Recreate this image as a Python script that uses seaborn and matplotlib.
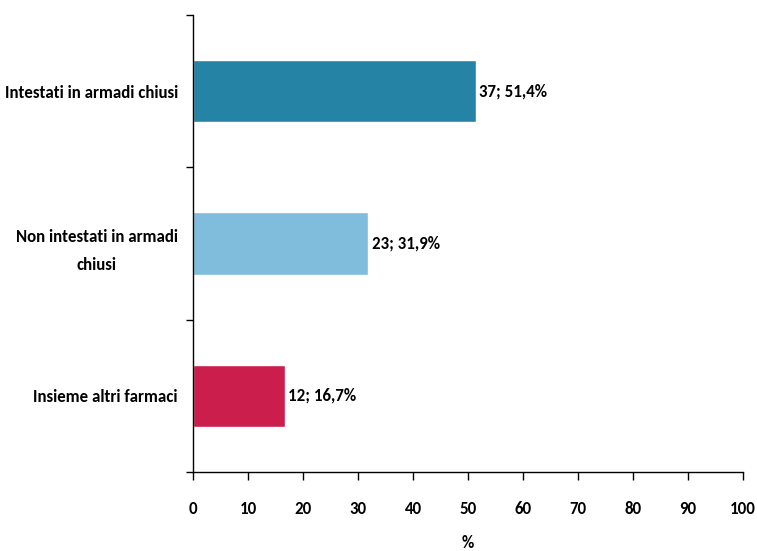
import matplotlib
matplotlib.use("Agg")
import matplotlib.pyplot as plt
from matplotlib import font_manager
import pandas as pd
import seaborn as sns

categories = ["Intestati in armadi chiusi", "Non intestati in armadi\nchiusi", "Insieme altri farmaci"]
counts = [37, 23, 12]
percents = [51.4, 31.9, 16.7]
colors = ["#2584A6", "#80BDDD", "#CB1E4D"]
x_ticks = [0, 10, 20, 30, 40, 50, 60, 70, 80, 90, 100]

sns.set_style("white")
available = {f.name for f in font_manager.fontManager.ttflist}
font = "DejaVu Sans"
for name in ["Carlito", "Liberation Sans Narrow", "Asap Condensed", "Barlow Semi Condensed"]:
    if name in available:
        font = name
        break
plt.rcParams["font.family"] = [font, "DejaVu Sans"]
plt.rcParams["font.weight"] = "bold"
plt.rcParams["text.color"] = "black"
plt.rcParams["xtick.color"] = "black"
plt.rcParams["ytick.color"] = "black"
plt.rcParams["axes.labelcolor"] = "black"
FS = 12.2

df = pd.DataFrame({"cat": categories, "pct": percents})

fig = plt.figure(figsize=(7.57, 5.51), dpi=100)
ax = fig.add_axes([0.255, 0.143, 0.7265, 0.83])

sns.barplot(data=df, x="pct", y="cat", hue="cat", palette=colors, orient="h",
            width=0.41, legend=False, ax=ax, saturation=1)

for i, (n, p) in enumerate(zip(counts, percents)):
    txt = f"{n}; {p:.1f}%".replace(".", ",")
    ax.text(p + 0.6, i, txt, va="center", ha="left", fontsize=FS, fontweight="bold")

ax.set_xlim(0, 100)
ax.set_ylim(2.5, -0.5)
ax.set_xticks(x_ticks)
ax.set_xticklabels([str(t) for t in x_ticks], fontsize=FS, fontweight="bold")
ax.tick_params(axis="x", bottom=True, direction="out", length=6, width=1, pad=15)

ax.set_yticks([-0.5, 0.5, 1.5, 2.5])
ax.set_yticklabels([])
ax.tick_params(axis="y", which="major", left=True, direction="out", length=5, width=1)
ax.set_yticks([0, 1, 2], minor=True)
ax.set_yticklabels(categories, minor=True, fontsize=FS, fontweight="bold",
                   multialignment="center", linespacing=1.95)
ax.tick_params(axis="y", which="minor", left=True, length=0, pad=11)

ax.set_xlabel("%", fontsize=FS, fontweight="bold", labelpad=13)
ax.set_ylabel("")

for side in ["top", "right"]:
    ax.spines[side].set_visible(False)
for side in ["left", "bottom"]:
    ax.spines[side].set_color("black")
    ax.spines[side].set_linewidth(1)

fig.savefig("out.png", dpi=100)
plt.close(fig)
